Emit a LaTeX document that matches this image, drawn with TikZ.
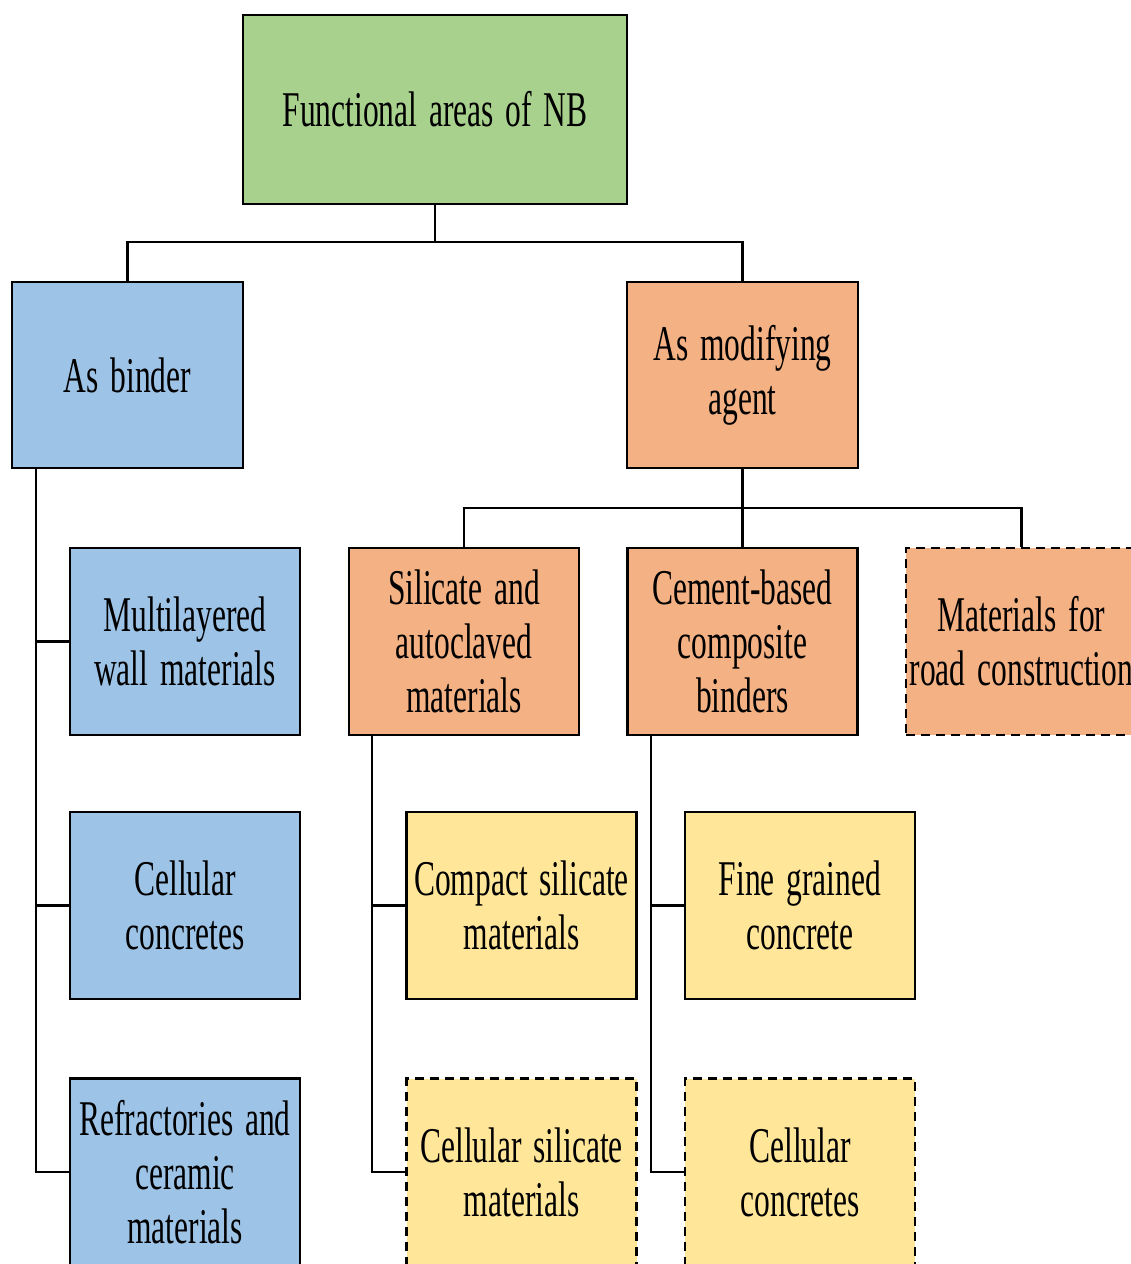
\documentclass[tikz,border=0pt]{standalone}
\usepackage{fontspec}
\setmainfont{Liberation Serif}[FakeStretch=0.63, WordSpace=1.5]
\usetikzlibrary{positioning}
\definecolor{nbgreen}{HTML}{A9D18E}
\definecolor{nbblue}{HTML}{9DC3E6}
\definecolor{nborange}{HTML}{F4B183}
\definecolor{nbyellow}{HTML}{FFE699}
\tikzset{
  areabox/.style={draw=black, line width=2.8pt, align=center, inner sep=0pt,
    minimum width=230pt, minimum height=187pt,
    font=\fontsize{50}{54}\selectfont},
  openbox/.style={areabox, dash pattern=on 9pt off 6pt},
  link/.style={draw=black, line width=2.4pt}
}
\begin{document}
\begin{tikzpicture}[x=1pt, y=-1pt]
  \useasboundingbox (0,0) rectangle (1131,1264);
  \clip (0,0) rectangle (1131,1264);

  % top level
  \node[areabox, fill=nbgreen, minimum width=384pt, minimum height=189pt] (root) at (435,109.5) {Functional areas of NB};
  \node[areabox, fill=nbblue, minimum width=231pt, minimum height=186pt] (binder) at (127.5,375) {As binder};
  \node[areabox, fill=nborange, minimum width=231pt, minimum height=186pt] (agent) at (742.5,375) {As modifying\\agent};

  % binder branch
  \node[areabox, fill=nbblue] (wall) at (185,641.5) {Multilayered\\wall materials};
  \node[areabox, fill=nbblue] (cellular) at (185,905.5) {Cellular\\concretes};
  \node[areabox, fill=nbblue] (refract) at (185,1172) {Refractories and\\ceramic\\materials};

  % modifying agent branch
  \node[areabox, fill=nborange] (silicate) at (464,641.5) {Silicate and\\autoclaved\\materials};
  \node[areabox, fill=nborange] (cement) at (742.5,641.5) {Cement-based\\composite\\binders};
  \node[openbox, fill=nborange, minimum width=231pt] (road) at (1021.5,641.5) {Materials for\\road construction};

  \node[areabox, fill=nbyellow] (compact) at (521.5,905.5) {Compact silicate\\materials};
  \node[openbox, fill=nbyellow] (cellsil) at (521.5,1172) {Cellular silicate\\materials};
  \node[areabox, fill=nbyellow] (fine) at (800,905.5) {Fine grained\\concrete};
  \node[openbox, fill=nbyellow] (cellconc) at (800,1172) {Cellular\\concretes};

  % connectors
  \coordinate (j1) at (435,242);
  \draw[link] (root) -- (j1) -| (binder.north);
  \draw[link] (j1) -| (agent.north);

  \coordinate (j2) at (742.5,508);
  \draw[link] (agent) -- (j2) -| (silicate.north);
  \draw[link] (j2) -- (cement.north);
  \draw[link] (j2) -| (road.north);

  \coordinate (t1) at (36,468);
  \draw[link] (t1) |- (wall.west);
  \draw[link] (t1) |- (cellular.west);
  \draw[link] (t1) |- (refract.west);

  \coordinate (t2) at (372,735);
  \draw[link] (t2) |- (compact.west);
  \draw[link] (t2) |- (cellsil.west);

  \coordinate (t3) at (651,735);
  \draw[link] (t3) |- (fine.west);
  \draw[link] (t3) |- (cellconc.west);
\end{tikzpicture}
\end{document}
